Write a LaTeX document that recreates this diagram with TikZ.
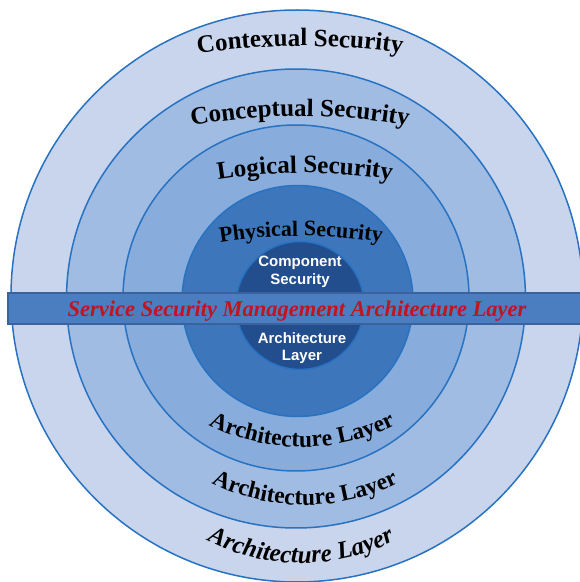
\documentclass[tikz,border=0pt]{standalone}
\usepackage{fontspec}
\setmainfont{Liberation Serif}
\newfontfamily\compfont{Liberation Sans}
\definecolor{secOuter}{HTML}{C8D5EC}
\definecolor{secConcept}{HTML}{A0BCE3}
\definecolor{secLogic}{HTML}{88ACDB}
\definecolor{secPhys}{HTML}{3E76BB}
\definecolor{secComp}{HTML}{224E8E}
\definecolor{secEdge}{HTML}{2872C2}
\definecolor{secBand}{HTML}{4B7EC0}
\definecolor{secBandEdge}{HTML}{3A629E}
\definecolor{secRed}{HTML}{C0141E}
\usetikzlibrary{decorations.text}

\newcommand\ringfont{\fontsize{25}{30}\selectfont\bfseries}
\newcommand\physfont{\fontsize{22}{26}\selectfont\bfseries}
\newcommand\layerfont{\fontsize{23.5}{28}\selectfont\bfseries}
\newcommand\layerfontit{\fontsize{25}{30}\selectfont\bfseries\itshape}

\begin{document}
\begin{tikzpicture}[x=1pt,y=1pt,
  ring/.style={draw=secEdge, line width=1.5pt},
  archlabel/.style={decorate, decoration={text along path, text align=center, text={#1}}},
  complabel/.style={anchor=base, text=white, font=\compfont\fontsize{15}{18}\selectfont\bfseries}]
  \useasboundingbox (0,0) rectangle (580,582);
  % rings, outside in
  \coordinate (outerC) at (297,286);
  \coordinate (conceptC) at (296,283.5);
  \coordinate (logicC) at (296,284);
  \coordinate (physC) at (297.5,281);
  \coordinate (compC) at (300,276.5);
  \filldraw[secOuter, ring] (outerC) circle[radius=286];
  \filldraw[secConcept, ring] (conceptC) circle[radius=229.5];
  \filldraw[secLogic, ring] (logicC) circle[radius=173];
  \filldraw[secPhys, ring] (physC) circle[radius=115.5];
  \filldraw[secComp, ring] (compC) circle[radius=64];
  % band across the middle
  \filldraw[fill=secBand, draw=secBandEdge, line width=1.5pt] (8,258) rectangle (590,289);
  \node (bandlabel) [anchor=base, text=secRed, font=\fontsize{22.5}{27}\selectfont\bfseries\itshape]
    at (297,265) {Service Security Management Architecture Layer};
  % core labels
  \node (comp1) [complabel] at (300,315) {Component};
  \node (comp2) [complabel] at (300,297) {Security};
  \node (arch1) [complabel] at (302,238) {Architecture};
  \node (arch2) [complabel] at (302,221) {Layer};
  % upper arched labels
  \path[archlabel={|\ringfont|Contexual Security}]
    ([shift={(104:700)}]300,-164) arc[start angle=104, end angle=76, radius=700];
  \path[archlabel={|\ringfont|Conceptual Security}]
    ([shift={(106:600)}]300,-134) arc[start angle=106, end angle=74, radius=600];
  \path[archlabel={|\ringfont|Logical Security}]
    ([shift={(106:550)}]305,-141) arc[start angle=106, end angle=74, radius=550];
  \path[archlabel={|\physfont|Physical Security}]
    ([shift={(108:500)}]301,-154) arc[start angle=108, end angle=72, radius=500];
  % lower arched labels
  \path[archlabel={|\layerfont|Architecture Layer}]
    ([shift={(225:210)}]302,345) arc[start angle=225, end angle=315, radius=210];
  \path[archlabel={|\layerfont|Architecture Layer}]
    ([shift={(225:210)}]305,287) arc[start angle=225, end angle=315, radius=210];
  \path[archlabel={|\layerfontit|Architecture Layer}]
    ([shift={(225:210)}]301,229) arc[start angle=225, end angle=315, radius=210];
\end{tikzpicture}
\end{document}
